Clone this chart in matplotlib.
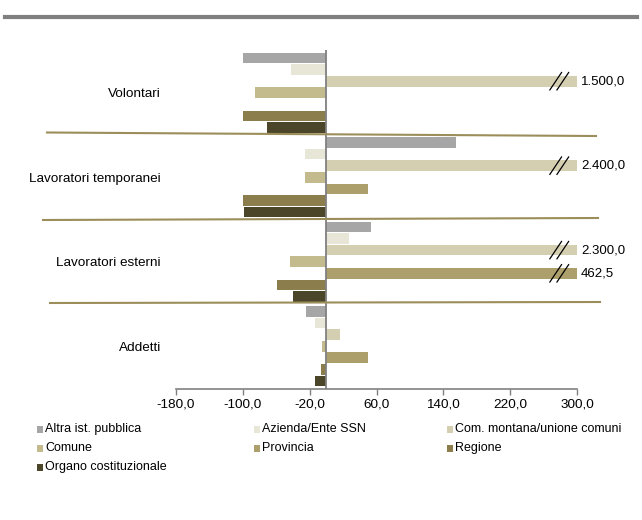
import matplotlib
matplotlib.use("Agg")
import matplotlib.pyplot as plt
from matplotlib.lines import Line2D
from matplotlib.patches import Rectangle

plt.rcParams['font.family'] = ['Liberation Sans', 'DejaVu Sans']

# categories from bottom to top
categorie = ["Addetti", "Lavoratori esterni", "Lavoratori temporanei", "Volontari"]
enti = ["Altra ist. pubblica", "Azienda/Ente SSN", "Com. montana/unione comuni",
        "Comune", "Provincia", "Regione", "Organo costituzionale"]
colori = ["#a6a6a6", "#e8e6d7", "#d5cfb2", "#c3ba8e", "#ad9f6b", "#8c7d4c", "#4b4629"]

# one list per ente, values in the order of categorie
altra = [-24, 54, 155, -100]
azienda = [-14, 27, -25, -42]
com_montana = [16, 2300, 2400, 1500]
comune = [-5, -44, -25, -86]
provincia = [50, 462.5, 50, 0]
regione = [-7, -59, -100, -100]
organo = [-14, -40, -99, -71]
serie = [altra, azienda, com_montana, comune, provincia, regione, organo]

XMIN, XMAX = -180, 300
xticks = [-180, -100, -20, 60, 140, 220, 300]
GROUP = 7.28

def fmt_it(v):
    s = "{:,.1f}".format(v)
    return s.replace(",", "#").replace(".", ",").replace("#", ".")

fig = plt.figure(figsize=(6.42, 5.20), dpi=100)
ax = fig.add_axes([176/642, 1-389/520, (577-176)/642, (389-50)/520])

for i, (vals, col) in enumerate(zip(serie, colori)):
    for g, v in enumerate(vals):
        y = g*GROUP + (6 - i)
        w = min(v, XMAX)
        ax.barh(y, w, height=0.92, color=col, edgecolor='none', zorder=2)
        if v > XMAX:
            # broken bar: value label and double slash
            ax.text(XMAX + 5, y, fmt_it(v), va='center', ha='left', fontsize=9.5,
                    clip_on=False)
            for x0 in (XMAX - 25.5, XMAX - 17):
                ax.plot([x0 - 7, x0 + 7], [y - 0.75, y + 0.75], color='black',
                        lw=0.9, zorder=3, clip_on=False)

ax.axvline(0, color='#808080', lw=1.3, zorder=3)
ax.set_xlim(XMIN, XMAX)
ax.set_ylim(-0.69, 3*GROUP + 6 + 0.69)
ax.set_xticks(xticks)
ax.set_xticklabels([fmt_it(t) for t in xticks], fontsize=9.7)
ax.set_yticks([g*GROUP + 3 for g in range(len(categorie))])
ax.set_yticklabels(categorie, fontsize=9.7)
ax.tick_params(axis='y', length=0, pad=11)
ax.tick_params(axis='x', length=4, width=1, color='#808080', pad=3)
for s in ['left', 'top', 'right']:
    ax.spines[s].set_visible(False)
ax.spines['bottom'].set_color('#808080')
ax.spines['bottom'].set_linewidth(1.2)

# top rule
W, H = 642, 520
def fl(x1, y1, x2, y2, **kw):
    fig.add_artist(Line2D([x1/W, x2/W], [1-y1/H, 1-y2/H], transform=fig.transFigure, **kw))

fl(5, 17, 637, 17, color='#808080', lw=3.0)

# separators between groups
sep = '#9b8e5a'
fl(47, 132.5, 596, 136, color=sep, lw=1.5)
fl(43, 220, 598, 218, color=sep, lw=1.5)
fl(50, 303, 600, 302, color=sep, lw=1.5)

# legend, 3 columns by rows
col_x = [37, 254, 447]
row_y = [429, 448, 467]
for k, (nome, col) in enumerate(zip(enti, colori)):
    r, c = divmod(k, 3)
    x, y = col_x[c], row_y[r]
    fig.add_artist(Rectangle((x/W, 1-(y+3.5)/H), 6/W, 7/H, transform=fig.transFigure,
                             facecolor=col, edgecolor='none'))
    fig.text((x+8)/W, 1-y/H, nome, fontsize=9, va='center', ha='left')

fig.savefig("out.png", dpi=100)
